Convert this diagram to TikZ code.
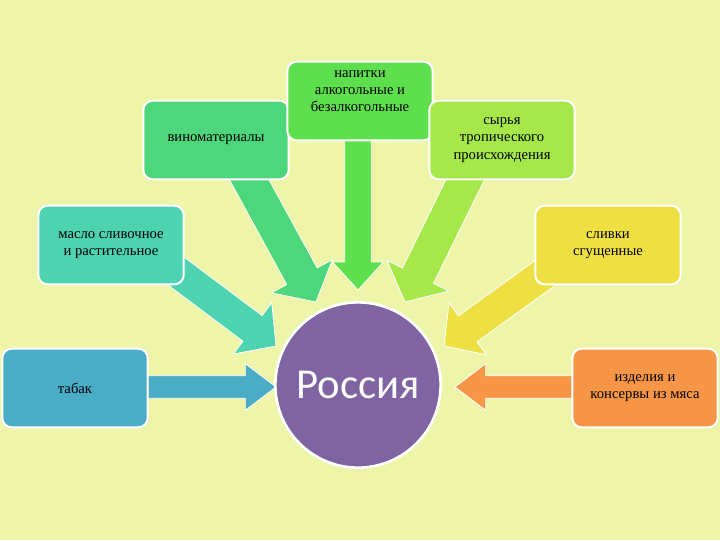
\documentclass[tikz,border=0pt]{standalone}
\usepackage{fontspec}
\setmainfont{Liberation Serif}
\newfontfamily\carlitofnt{Carlito}
\usetikzlibrary{calc}
\definecolor{bg}{HTML}{EEF5A8}
\definecolor{cVino}{HTML}{4DD67C}
\definecolor{cNap}{HTML}{5EE04E}
\definecolor{cSyr}{HTML}{A6E84A}
\definecolor{cMas}{HTML}{4ED3B0}
\definecolor{cSliv}{HTML}{EEE042}
\definecolor{cTab}{HTML}{4BACC6}
\definecolor{cIzd}{HTML}{F79646}
\definecolor{cRus}{HTML}{8064A2}
\tikzset{
 box/.style={draw=white,line width=1.5pt,rounded corners=7pt,minimum width=109pt,minimum height=59pt,font=\fontsize{11}{13}\selectfont,align=center,inner sep=2pt},
}
\newcommand\blk[6]{% start end color halfwidth headhalfwidth headlen
 \coordinate (bN) at ($(#2)!#6!(#1)$);
 \fill[#3,draw=white,line width=0.6pt]
  ($(#1)!#4!90:(#2)$) -- ($(bN)!#4!-90:(#1)$) -- ($(bN)!#5!-90:(#1)$) -- (#2)
  -- ($(bN)!#5!90:(#1)$) -- ($(bN)!#4!90:(#1)$) -- ($(#1)!#4!-90:(#2)$) -- cycle;}
\begin{document}
\begin{tikzpicture}[x=0.75pt,y=-0.75pt]
\fill[bg] (0,0) rectangle (720,540);
\useasboundingbox (0,0) rectangle (720,540);
% arrows
\coordinate (a1s) at (245,172); \coordinate (a1e) at (316,302);
\coordinate (a2s) at (358,140); \coordinate (a2e) at (358,290);
\coordinate (a3s) at (470,170); \coordinate (a3e) at (405,302);
\coordinate (a4s) at (172,268); \coordinate (a4e) at (276,346);
\coordinate (a5s) at (552,268); \coordinate (a5e) at (444,346);
\coordinate (a6s) at (148,387); \coordinate (a6e) at (276,387);
\coordinate (a7s) at (572,387); \coordinate (a7e) at (455,387);
\blk{a1s}{a1e}{cVino}{13pt}{26pt}{22pt}
\blk{a2s}{a2e}{cNap}{10pt}{19pt}{21pt}
\blk{a3s}{a3e}{cSyr}{13pt}{26pt}{22pt}
\blk{a4s}{a4e}{cMas}{12pt}{24pt}{22pt}
\blk{a5s}{a5e}{cSliv}{12pt}{24pt}{22pt}
\blk{a6s}{a6e}{cTab}{8.5pt}{17.5pt}{23pt}
\blk{a7s}{a7e}{cIzd}{8.5pt}{17.5pt}{23pt}
% boxes
\node[box,fill=cVino] (vino) at (216,140) {виноматериалы};
\node[box,fill=cNap] (nap) at (360,101) {напитки\\алкогольные и\\безалкогольные\\[2pt]};
\node[box,fill=cSyr] (syr) at (502,140) {сырья\\тропического\\происхождения};
\node[box,fill=cMas] (mas) at (111,245) {масло сливочное\\и растительное};
\node[box,fill=cSliv] (sliv) at (608,245) {сливки\\сгущенные};
\node[box,fill=cTab] (tab) at (75,388) {табак};
\node[box,fill=cIzd] (izd) at (645,388) {изделия и\\консервы из мяса};
\node[circle,fill=cRus,draw=white,line width=2pt,minimum size=124pt,font=\carlitofnt\fontsize{32}{34}\selectfont,text=white] (rus) at (358,385) {Россия};
\end{tikzpicture}
\end{document}
